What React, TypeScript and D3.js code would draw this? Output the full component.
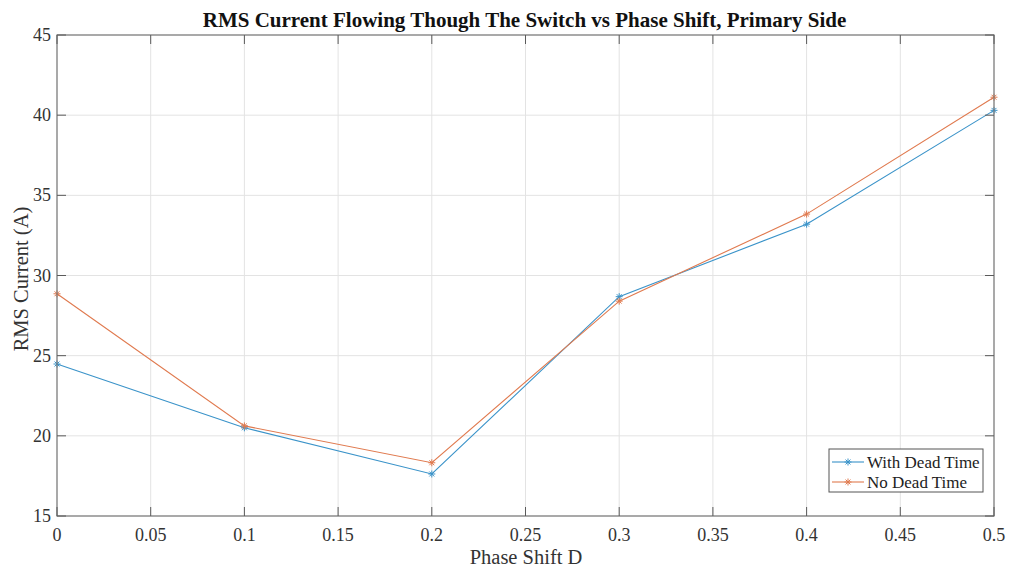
import React from "react";
import { scaleLinear, line } from "d3";

const phaseShift = [0, 0.1, 0.2, 0.3, 0.4, 0.5];
const withDeadTime = [24.48, 20.5, 17.62, 28.68, 33.2, 40.3];
const noDeadTime = [28.86, 20.62, 18.32, 28.4, 33.83, 41.12];
const xTicks = [0, 0.05, 0.1, 0.15, 0.2, 0.25, 0.3, 0.35, 0.4, 0.45, 0.5];
const yTicks = [15, 20, 25, 30, 35, 40, 45];

const svgWidth = 1009;
const svgHeight = 567;
const margin = { top: 35, right: 15, bottom: 51, left: 57 };
const tickLen = 9;
const font = "'Liberation Serif', 'Times New Roman', serif";

const series = [
  { name: "With Dead Time", values: withDeadTime, color: "#3a93c9" },
  { name: "No Dead Time", values: noDeadTime, color: "#e07a4f" },
];

function Star({ x, y, color }: { x: number; y: number; color: string }) {
  const r = 3.5;
  const d = r * 0.7;
  return (
    <g stroke={color} strokeWidth={1}>
      <line x1={x - r} x2={x + r} y1={y} y2={y} />
      <line x1={x} x2={x} y1={y - r} y2={y + r} />
      <line x1={x - d} x2={x + d} y1={y - d} y2={y + d} />
      <line x1={x - d} x2={x + d} y1={y + d} y2={y - d} />
    </g>
  );
}

function App() {
  const x0 = margin.left;
  const x1 = svgWidth - margin.right;
  const y0 = svgHeight - margin.bottom;
  const y1 = margin.top;
  const xScale = scaleLinear().domain([0, 0.5]).range([x0, x1]);
  const yScale = scaleLinear().domain([15, 45]).range([y0, y1]);
  const path = line<number>()
    .x((_, i) => xScale(phaseShift[i]))
    .y((d) => yScale(d));

  const legendX = 829;
  const legendY = 449;

  return (
    <svg
      width={svgWidth}
      height={svgHeight}
      style={{ position: "absolute", left: 0, top: 0, background: "#fff" }}
      fontFamily={font}
    >
      {xTicks.map((t) => (
        <line key={`gx${t}`} x1={xScale(t)} x2={xScale(t)} y1={y0} y2={y1} stroke="#e3e3e3" />
      ))}
      {yTicks.map((t) => (
        <line key={`gy${t}`} x1={x0} x2={x1} y1={yScale(t)} y2={yScale(t)} stroke="#e3e3e3" />
      ))}
      {series.map((s) => (
        <g key={s.name}>
          <path d={path(s.values) || ""} fill="none" stroke={s.color} strokeWidth={1.1} />
          {s.values.map((v, i) => (
            <Star key={i} x={xScale(phaseShift[i])} y={yScale(v)} color={s.color} />
          ))}
        </g>
      ))}
      <rect x={x0} y={y1} width={x1 - x0} height={y0 - y1} fill="none" stroke="#7a7a7a" strokeWidth={1.2} />
      {xTicks.map((t) => (
        <g key={`tx${t}`} stroke="#5a5a5a">
          <line x1={xScale(t)} x2={xScale(t)} y1={y0} y2={y0 - tickLen} />
          <line x1={xScale(t)} x2={xScale(t)} y1={y1} y2={y1 + tickLen} />
        </g>
      ))}
      {yTicks.map((t) => (
        <g key={`ty${t}`} stroke="#5a5a5a">
          <line x1={x0} x2={x0 + tickLen} y1={yScale(t)} y2={yScale(t)} />
          <line x1={x1} x2={x1 - tickLen} y1={yScale(t)} y2={yScale(t)} />
        </g>
      ))}
      {xTicks.map((t) => (
        <text key={`lx${t}`} x={xScale(t)} y={y0 + 25} textAnchor="middle" fontSize={18} fill="#333">
          {t}
        </text>
      ))}
      {yTicks.map((t) => (
        <text key={`ly${t}`} x={x0 - 6} y={yScale(t) + 6} textAnchor="end" fontSize={18} fill="#333">
          {t}
        </text>
      ))}
      <text x={(x0 + x1) / 2 - 1} y={27} textAnchor="middle" fontSize={21} fontWeight="bold" fill="#111">
        RMS Current Flowing Though The Switch vs Phase Shift, Primary Side
      </text>
      <text x={526} y={564} textAnchor="middle" fontSize={20.5} fill="#333">
        Phase Shift D
      </text>
      <text
        transform={`translate(28,279) rotate(-90)`}
        textAnchor="middle"
        fontSize={20.5}
        fill="#333"
      >
        RMS Current (A)
      </text>
      <rect x={legendX} y={legendY} width={154} height={43} fill="#fff" stroke="#555" strokeWidth={1} />
      {series.map((s, i) => {
        const ly = legendY + 13 + i * 20;
        return (
          <g key={`lg${s.name}`}>
            <line x1={legendX + 3} x2={legendX + 35} y1={ly} y2={ly} stroke={s.color} strokeWidth={1.1} />
            <Star x={legendX + 19} y={ly} color={s.color} />
            <text x={legendX + 38} y={ly + 5.5} fontSize={17} fill="#222">
              {s.name}
            </text>
          </g>
        );
      })}
    </svg>
  );
}

export default App;
